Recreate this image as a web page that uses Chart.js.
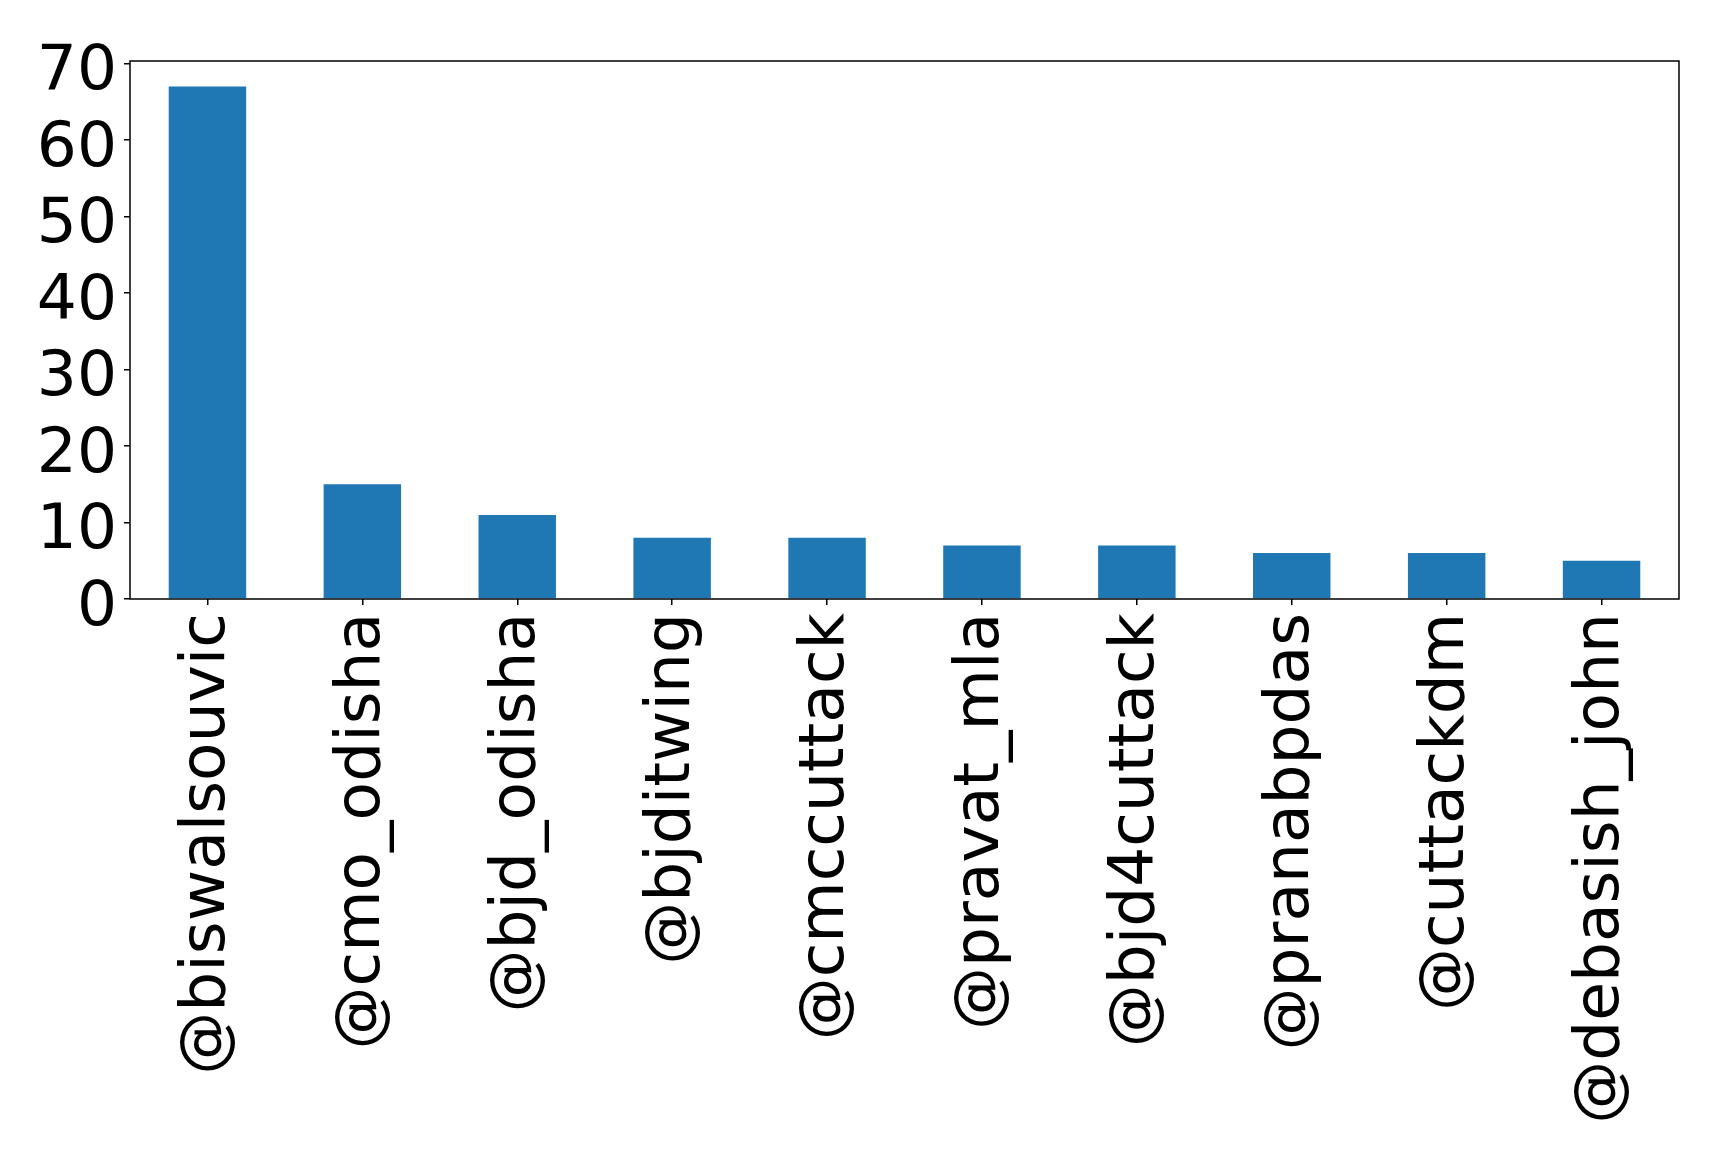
<!DOCTYPE html>
<html>
<head>
<meta charset="utf-8">
<script src="https://cdn.jsdelivr.net/npm/chart.js@4/dist/chart.umd.min.js"></script>
<style>
html,body{margin:0;padding:0;background:#fff;}
#c{display:block;}
</style>
</head>
<body>
<canvas id="c" width="1719" height="1155"></canvas>
<script>
const categories = ['@biswalsouvic','@cmo_odisha','@bjd_odisha','@bjditwing','@cmccuttack','@pravat_mla','@bjd4cuttack','@pranabpdas','@cuttackdm','@debasish_john'];
const counts = [67, 15, 11, 8, 8, 7, 7, 6, 6, 5];
const yTicks = [0, 10, 20, 30, 40, 50, 60, 70];

const framePlugin = {
  id: 'frame',
  afterDatasetsDraw(chart) {
    const a = chart.chartArea, ctx = chart.ctx;
    ctx.save();
    ctx.strokeStyle = '#000';
    ctx.lineWidth = 1.5;
    ctx.strokeRect(a.left, a.top, a.right - a.left, a.bottom - a.top);
    ctx.restore();
  }
};

new Chart(document.getElementById('c'), {
  type: 'bar',
  data: {
    labels: categories,
    datasets: [{ data: counts, backgroundColor: '#1f77b4', borderWidth: 0,
      categoryPercentage: 1.0, barPercentage: 0.5 }]
  },
  options: {
    responsive: false,
    animation: false,
    layout: { padding: { left: 0, top: 61, right: 40, bottom: 0 } },
    plugins: { legend: { display: false }, tooltip: { enabled: false } },
    scales: {
      x: {
        offset: true,
        grid: { display: true, drawOnChartArea: false, offset: false, tickLength: 6, color: '#000', lineWidth: 1.5 },
        border: { display: false },
        ticks: { color: '#000', font: { family: 'DejaVu Sans', size: 63 }, minRotation: 90, maxRotation: 90, autoSkip: false, padding: 8 },
        afterFit(s) { s.height = 556; }
      },
      y: {
        min: 0, max: 70.35,
        grid: { display: true, drawOnChartArea: false, tickLength: 6, color: '#000', lineWidth: 1.5 },
        border: { display: false },
        ticks: { color: '#000', font: { family: 'DejaVu Sans', size: 63, lineHeight: 0.3 }, padding: 7, autoSkip: false,
          callback: v => ['', String(v)] },
        afterBuildTicks(s) { s.ticks = yTicks.map(v => ({ value: v })); },
        afterFit(s) { s.width = 130; }
      }
    }
  },
  plugins: [framePlugin]
});
</script>
</body>
</html>
